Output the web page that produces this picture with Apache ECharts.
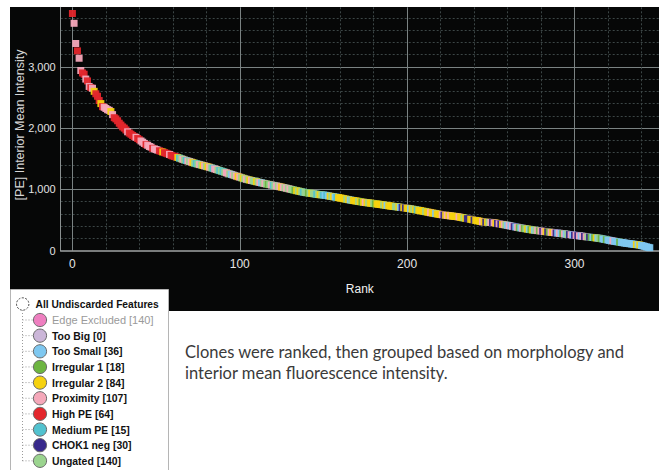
<!DOCTYPE html>
<html><head><meta charset="utf-8">
<script src="https://cdn.jsdelivr.net/npm/echarts@6/dist/echarts.min.js"></script>
<style>html,body{margin:0;padding:0;background:#fff}#c{width:659px;height:470px}</style>
</head><body><div id="c"></div>
<script>
// [PE] Interior Mean Intensity for each clone, in rank order (rank = index)
const intensity = [
3870,3710,3380,3260,3140,2940,2900,2880,2800,2770,
2680,2660,2650,2600,2560,2520,2450,2400,2350,2340,
2320,2300,2290,2270,2220,2170,2150,2120,2080,2050,
2020,2000,1970,1940,1920,1900,1880,1860,1850,1830,
1810,1790,1770,1750,1730,1720,1700,1690,1670,1660,
1650,1640,1630,1620,1610,1600,1590,1580,1570,1555,
1545,1538,1530,1520,1510,1500,1490,1480,1472,1463,
1455,1445,1436,1428,1420,1412,1405,1398,1390,1383,
1375,1368,1360,1352,1343,1334,1325,1316,1307,1298,
1290,1280,1271,1262,1253,1244,1235,1225,1216,1207,
1199,1190,1182,1173,1165,1158,1152,1145,1139,1132,
1126,1120,1113,1107,1100,1094,1088,1083,1077,1071,
1066,1060,1055,1049,1043,1037,1031,1025,1018,1012,
1005,998,992,985,979,973,967,961,955,950,
946,942,938,934,930,925,921,917,913,911,
909,904,900,894,889,884,880,875,871,866,
860,855,849,844,838,833,827,822,818,813,
809,804,800,795,790,787,783,780,776,773,
769,765,762,758,754,750,746,742,737,733,
729,726,722,719,715,712,708,705,701,697,
692,688,683,678,673,668,664,658,653,647,
642,637,631,626,620,615,610,605,600,595,
590,586,582,579,575,572,568,565,561,558,
555,550,544,539,534,528,523,517,512,506,
500,494,489,483,477,471,468,466,464,462,
461,460,455,450,444,439,434,429,424,419,
414,408,403,397,392,386,381,375,370,366,
361,357,352,348,343,338,335,331,328,324,
321,317,314,310,307,304,300,297,294,290,
287,284,280,277,273,270,266,263,260,256,
253,249,246,242,239,235,232,228,225,222,
218,215,212,208,205,202,196,191,185,180,
174,168,163,158,153,149,144,139,135,130,
125,121,117,114,110,107,103,100,96,93,
85,78,70,62,55,49
];
// group code of each ranked clone (same order as intensity)
const groupOfRank = (
"HPPHPPHHPH"+"PHP2HHH2HP"+"PPP2PHHHHH"+"HHHPHHHHPH"+"HPPPHPPPHP"+"PPHH2HHHPH"+
"HHH2MUPUMP"+"UP2UMUPU2P"+"U2PUMPPUMU"+"MUPPUSPUP2"+"PU2UPU2PUU"+"2UPSUPU1UP"+
"MUPUP2PUPU"+"PUU12U2UMU"+"U1U2UUMU2U"+
"MSMS2U2SM2"+"2222U2SU22"+"2U212P2U22"+"U12222U2S2"+"222UU2SC2C"+"22S2U2M222"+
"2U22P22S22"+"2PC2P2P222"+"2P22U2CC22"+"C2222P2C2U"+
"PCP2CPC2PU"+"SPSPCSP1SP"+"1U2S12SUP1"+"PCP2C1P2PC"+"SPS1PSUCPS"+"CPCPSPCPUC"+
"1S12SU1SS1"+"SSSPSSS1SS"+"SSSSSSS2S2"+"SSSSSS"
).split("");
const groupCodes  = ['E','B','S','1','2','P','H','M','C','U'];
const groupLabels = ['Edge Excluded [140]','Too Big [0]','Too Small [36]','Irregular 1 [18]','Irregular 2 [84]','Proximity [107]','High PE [64]','Medium PE [15]','CHOK1 neg [30]','Ungated [140]'];
const groupColors = ['#ee7fc0','#cbb6d8','#7fc8f0','#6db541','#f6d20f','#f5a8ba','#e3262c','#52c2cf','#37298b','#9bd48f'];
const rootLabel = 'All Undiscarded Features';
const captionLines = ['Clones were ranked, then grouped based on morphology and','interior mean fluorescence intensity.'];
const xName = 'Rank';
const yName = '[PE] Interior Mean Intensity';

const colorOf = {};
groupCodes.forEach((c, i) => colorOf[c] = groupColors[i]);

const LEGFONT = "'Liberation Sans',Arial,sans-serif";
const AXISFONT = "'Liberation Sans',Arial,sans-serif";

const legendEls = [];
legendEls.push({type:'rect', shape:{x:10.5,y:289.5,width:158,height:190}, style:{fill:'#fff',stroke:'#b5b5b5',lineWidth:1}});
legendEls.push({type:'line', shape:{x1:22.5,y1:310,x2:22.5,y2:461}, style:{stroke:'#9a9a9a',lineWidth:1,lineDash:[1,2]}});
legendEls.push({type:'circle', shape:{cx:22.7,cy:304,r:6.2}, style:{fill:'#fff',stroke:'#444',lineWidth:1,lineDash:[2,1.5]}});
legendEls.push({type:'text', x:35.5, y:304, scaleX:0.93, style:{text:rootLabel, fill:'#111', font:"bold 11px "+LEGFONT, verticalAlign:'middle'}});
groupLabels.forEach((lab, i) => {
  const y = 320 + 15.65 * i;
  legendEls.push({type:'line', shape:{x1:22.5,y1:y,x2:33,y2:y}, style:{stroke:'#9a9a9a',lineWidth:1,lineDash:[1,2]}});
  legendEls.push({type:'circle', shape:{cx:40,cy:y,r:6.6}, style:{fill:groupColors[i],stroke:'#6a6a6a',lineWidth:1}});
  legendEls.push({type:'text', x:52, y:y, scaleX: i===0 ? 1 : 0.95,
    style:{text:lab, fill: i===0?'#9a9a9a':'#111', font:(i===0?'':'bold ')+"11px "+LEGFONT, verticalAlign:'middle'}});
});

const chart = echarts.init(document.getElementById('c'), null, {renderer:'svg'});
chart.setOption({
  animation:false,
  backgroundColor:'#fff',
  title:{
    text: captionLines.join('\n'), left:185, top:341, padding:0,
    textStyle:{fontFamily:"Lato,'Open Sans',sans-serif", fontSize:16.5, fontWeight:'normal', color:'#3a3a3a', lineHeight:21.5}
  },
  grid:{left:60.7, top:7.3, right:0, bottom:219.3, containLabel:false},
  xAxis:{
    type:'value', min:-7, max:350.5,
    name:xName, nameLocation:'middle', nameGap:32, nameMoveOverlap:false,
    nameTextStyle:{color:'#f2f2f2', fontSize:12, fontFamily:AXISFONT},
    axisLine:{show:true, onZero:false, lineStyle:{color:'#a0a4a4', width:1.5}},
    axisTick:{show:false},
    axisLabel:{color:'#e6e6e6', fontSize:12, margin:7, fontFamily:AXISFONT, showMinLabel:false, showMaxLabel:false},
    splitLine:{show:true, showMinLine:false, showMaxLine:false, lineStyle:{color:'#7a8282', width:1}},
    minorTick:{show:false, splitNumber:5},
    minorSplitLine:{show:true, lineStyle:{color:'#3c4646', width:1, type:[2,2]}}
  },
  yAxis:{
    type:'value', min:0, max:3971,
    name:yName, nameLocation:'middle', nameGap:34, nameMoveOverlap:false,
    nameTextStyle:{color:'#d6d6d6', fontSize:12.5, fontFamily:AXISFONT, padding:[0,0,0,8]},
    axisLine:{show:true, onZero:false, lineStyle:{color:'#8a9090', width:1}},
    axisTick:{show:false},
    axisLabel:{color:'#e2e2e2', fontSize:11, margin:5, fontFamily:AXISFONT, showMaxLabel:false},
    splitLine:{show:true, showMinLine:false, showMaxLine:false, lineStyle:{color:'#7a8282', width:1}},
    minorTick:{show:false, splitNumber:5},
    minorSplitLine:{show:true, lineStyle:{color:'#3c4646', width:1, type:[2,2]}}
  },
  graphic:[
    {type:'rect', z:-100, shape:{x:10,y:7,width:649,height:304}, style:{fill:'#060707'}},
    {type:'group', z:100, children:legendEls}
  ],
  series:[{
    type:'scatter',
    symbol:'rect', symbolSize:7,
    silent:true,
    data: intensity.map((v, i) => [i, v]),
    itemStyle:{ color: p => colorOf[groupOfRank[p.dataIndex]], opacity:0.95 }
  }]
});
</script>
</body></html>
